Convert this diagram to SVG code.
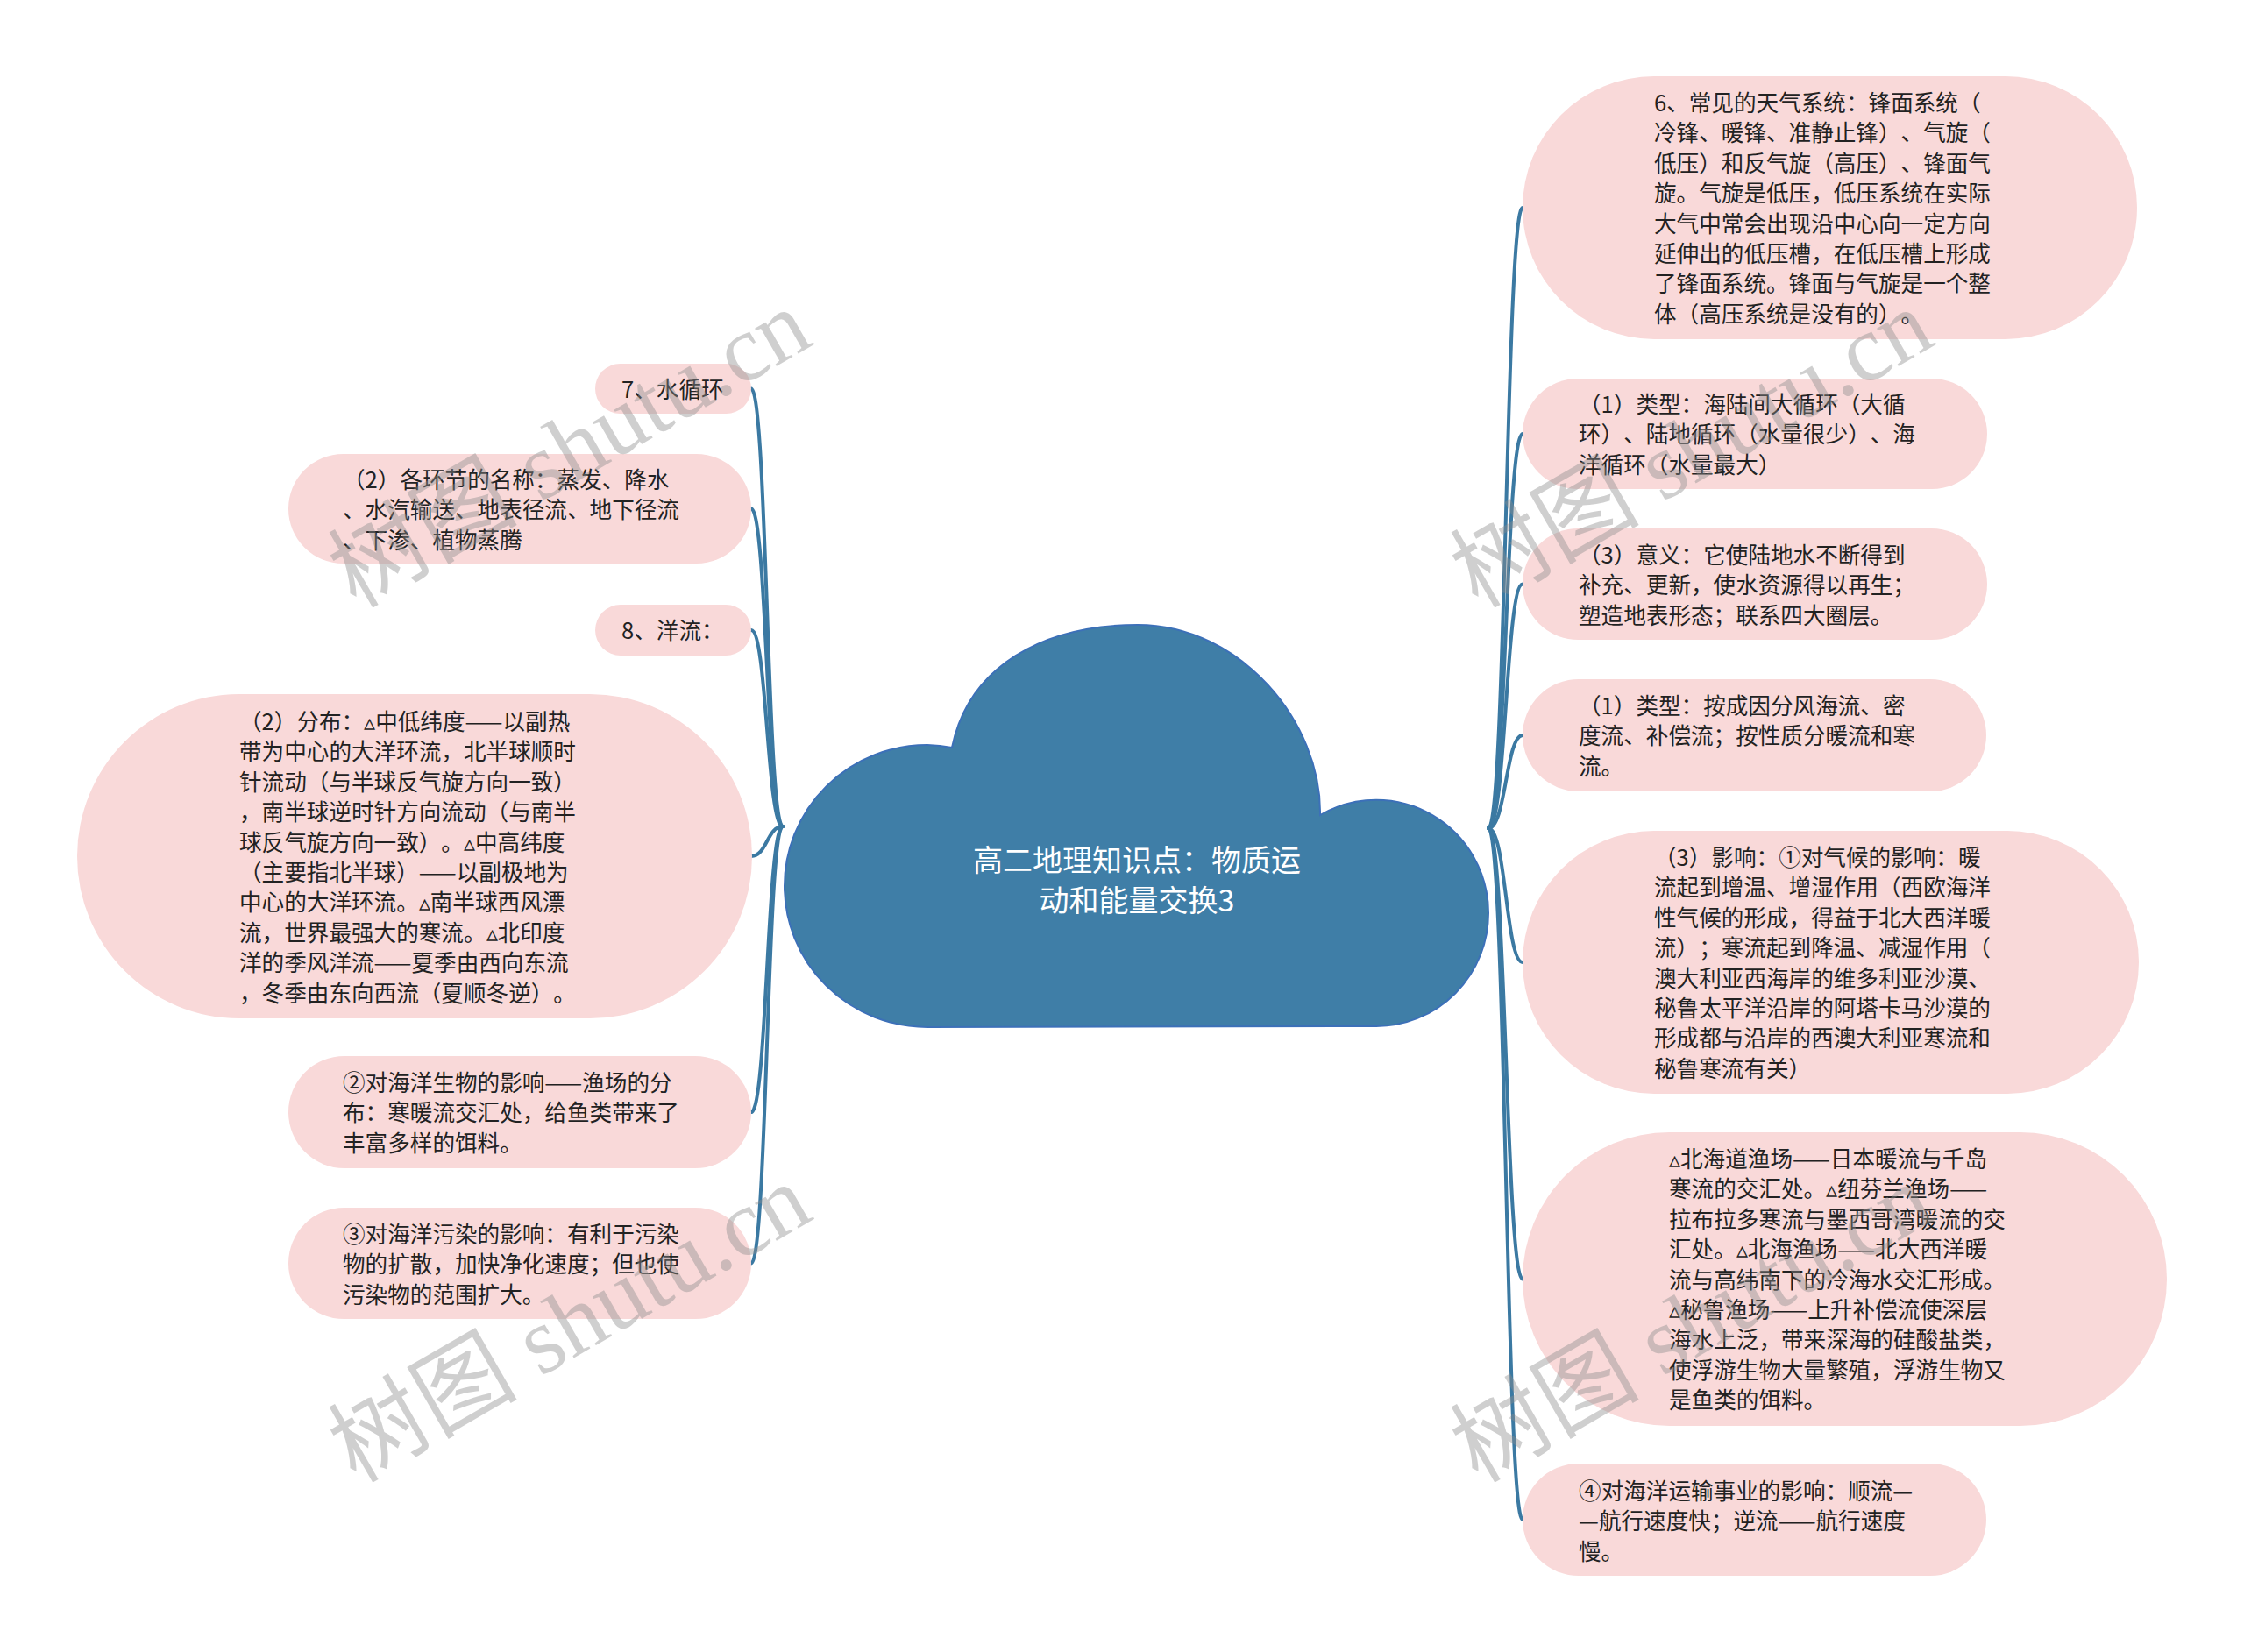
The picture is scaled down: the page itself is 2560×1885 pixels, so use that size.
<svg xmlns="http://www.w3.org/2000/svg" width="2560" height="1885" viewBox="0 0 2560 1885">
<defs>
<style>
.pill{fill:#F9D9D9;}
.t{font-family:"Noto Sans CJK SC","Noto Sans CJK JP",sans-serif;font-size:25.6px;fill:#222222;dominant-baseline:central;text-spacing-trim:space-all;}
.title{font-family:"Noto Sans CJK SC","Noto Sans CJK JP",sans-serif;font-size:34px;fill:#ffffff;dominant-baseline:central;text-anchor:middle;text-spacing-trim:space-all;}
.link{fill:none;stroke:#3B79A2;stroke-width:4;stroke-linecap:round;}
.wm{font-family:"Liberation Serif","Noto Sans CJK SC",serif;font-size:108px;fill:#8c8c8c;fill-opacity:0.42;text-anchor:middle;dominant-baseline:central;}
</style>
</defs>
<rect x="0" y="0" width="2560" height="1885" fill="#ffffff"/>

<g id="connectors">
<path class="link" d="M893 943 C875 943 875 443.5 857 443.5"/>
<path class="link" d="M893 943 C875 943 875 580.5 857 580.5"/>
<path class="link" d="M893 943 C875 943 875 719 857 719"/>
<path class="link" d="M893 943 C875 943 875 977 857 977"/>
<path class="link" d="M893 943 C875 943 875 1269 857 1269"/>
<path class="link" d="M893 943 C875 943 875 1441.5 857 1441.5"/>
<path class="link" d="M1698 945 C1718 945 1718 237 1737 237"/>
<path class="link" d="M1698 945 C1718 945 1718 495 1737 495"/>
<path class="link" d="M1698 945 C1718 945 1718 666.5 1737 666.5"/>
<path class="link" d="M1698 945 C1718 945 1718 839 1737 839"/>
<path class="link" d="M1698 945 C1718 945 1718 1098 1737 1098"/>
<path class="link" d="M1698 945 C1718 945 1718 1459.5 1737 1459.5"/>
<path class="link" d="M1698 945 C1718 945 1718 1734 1737 1734"/>
</g>

<g id="root">
<path d="M1058 1172 A163 161 0 0 1 895 1011 A163 161 0 0 1 1058 850 A163 161 0 0 1 1086 853 C1105 760 1190 713 1298 713 C1415 713 1508 824 1506 930 A128 129 0 0 1 1698 1042 A128 129 0 0 1 1570 1171 Z" fill="#3F7EA7" stroke="#3C70B8" stroke-width="2"/>
<text class="title" x="1297" y="979">高二地理知识点：物质运</text>
<text class="title" x="1297" y="1025">动和能量交换3</text>
</g>

<g id="n-r1">
<rect class="pill" x="1737" y="87" width="701" height="300" rx="150" ry="150"/>
<text class="t" x="1887" y="115"><tspan x="1887" dy="0">6、常见的天气系统：锋面系统（</tspan><tspan x="1887" dy="34.4">冷锋、暖锋、准静止锋）、气旋（</tspan><tspan x="1887" dy="34.4">低压）和反气旋（高压）、锋面气</tspan><tspan x="1887" dy="34.4">旋。气旋是低压，低压系统在实际</tspan><tspan x="1887" dy="34.4">大气中常会出现沿中心向一定方向</tspan><tspan x="1887" dy="34.4">延伸出的低压槽，在低压槽上形成</tspan><tspan x="1887" dy="34.4">了锋面系统。锋面与气旋是一个整</tspan><tspan x="1887" dy="34.4">体（高压系统是没有的）。</tspan></text>
</g>

<g id="n-r2">
<rect class="pill" x="1737" y="432" width="530" height="126" rx="63" ry="63"/>
<text class="t" x="1801" y="459"><tspan x="1801" dy="0">（1）类型：海陆间大循环（大循</tspan><tspan x="1801" dy="34.4">环）、陆地循环（水量很少）、海</tspan><tspan x="1801" dy="34.4">洋循环（水量最大）</tspan></text>
</g>

<g id="n-r3">
<rect class="pill" x="1737" y="603" width="530" height="127" rx="63.5" ry="63.5"/>
<text class="t" x="1801" y="631"><tspan x="1801" dy="0">（3）意义：它使陆地水不断得到</tspan><tspan x="1801" dy="34.4">补充、更新，使水资源得以再生；</tspan><tspan x="1801" dy="34.4">塑造地表形态；联系四大圈层。</tspan></text>
</g>

<g id="n-r4">
<rect class="pill" x="1737" y="775" width="529" height="128" rx="64" ry="64"/>
<text class="t" x="1801" y="803"><tspan x="1801" dy="0">（1）类型：按成因分风海流、密</tspan><tspan x="1801" dy="34.4">度流、补偿流；按性质分暖流和寒</tspan><tspan x="1801" dy="34.4">流。</tspan></text>
</g>

<g id="n-r5">
<rect class="pill" x="1737" y="948" width="703" height="300" rx="150" ry="150"/>
<text class="t" x="1887" y="976"><tspan x="1887" dy="0">（3）影响：①对气候的影响：暖</tspan><tspan x="1887" dy="34.4">流起到增温、增湿作用（西欧海洋</tspan><tspan x="1887" dy="34.4">性气候的形成，得益于北大西洋暖</tspan><tspan x="1887" dy="34.4">流）；寒流起到降温、减湿作用（</tspan><tspan x="1887" dy="34.4">澳大利亚西海岸的维多利亚沙漠、</tspan><tspan x="1887" dy="34.4">秘鲁太平洋沿岸的阿塔卡马沙漠的</tspan><tspan x="1887" dy="34.4">形成都与沿岸的西澳大利亚寒流和</tspan><tspan x="1887" dy="34.4">秘鲁寒流有关）</tspan></text>
</g>

<g id="n-r6">
<rect class="pill" x="1737" y="1292" width="735" height="335" rx="167.5" ry="167.5"/>
<text class="t" x="1904" y="1320"><tspan x="1904" dy="0">▵北海道渔场——日本暖流与千岛</tspan><tspan x="1904" dy="34.4">寒流的交汇处。▵纽芬兰渔场——</tspan><tspan x="1904" dy="34.4">拉布拉多寒流与墨西哥湾暖流的交</tspan><tspan x="1904" dy="34.4">汇处。▵北海渔场——北大西洋暖</tspan><tspan x="1904" dy="34.4">流与高纬南下的冷海水交汇形成。</tspan><tspan x="1904" dy="34.4">▵秘鲁渔场——上升补偿流使深层</tspan><tspan x="1904" dy="34.4">海水上泛，带来深海的硅酸盐类，</tspan><tspan x="1904" dy="34.4">使浮游生物大量繁殖，浮游生物又</tspan><tspan x="1904" dy="34.4">是鱼类的饵料。</tspan></text>
</g>

<g id="n-r7">
<rect class="pill" x="1737" y="1670" width="529" height="128" rx="64" ry="64"/>
<text class="t" x="1801" y="1699"><tspan x="1801" dy="0">④对海洋运输事业的影响：顺流—</tspan><tspan x="1801" dy="34.4">—航行速度快；逆流——航行速度</tspan><tspan x="1801" dy="34.4">慢。</tspan></text>
</g>

<g id="n-l1">
<rect class="pill" x="679" y="415" width="178" height="57" rx="28.5" ry="28.5"/>
<text class="t" x="709" y="442">7、水循环</text>
</g>

<g id="n-l2">
<rect class="pill" x="329" y="518" width="528" height="125" rx="62.5" ry="62.5"/>
<text class="t" x="391" y="545"><tspan x="391" dy="0">（2）各环节的名称：蒸发、降水</tspan><tspan x="391" dy="34.4">、水汽输送、地表径流、地下径流</tspan><tspan x="391" dy="34.4">、下渗、植物蒸腾</tspan></text>
</g>

<g id="n-l3">
<rect class="pill" x="679" y="690" width="178" height="58" rx="29" ry="29"/>
<text class="t" x="709" y="717">8、洋流：</text>
</g>

<g id="n-l4">
<rect class="pill" x="88" y="792" width="770" height="370" rx="185" ry="185"/>
<text class="t" x="273" y="821"><tspan x="273" dy="0">（2）分布：▵中低纬度——以副热</tspan><tspan x="273" dy="34.4">带为中心的大洋环流，北半球顺时</tspan><tspan x="273" dy="34.4">针流动（与半球反气旋方向一致）</tspan><tspan x="273" dy="34.4">，南半球逆时针方向流动（与南半</tspan><tspan x="273" dy="34.4">球反气旋方向一致）。▵中高纬度</tspan><tspan x="273" dy="34.4">（主要指北半球）——以副极地为</tspan><tspan x="273" dy="34.4">中心的大洋环流。▵南半球西风漂</tspan><tspan x="273" dy="34.4">流，世界最强大的寒流。▵北印度</tspan><tspan x="273" dy="34.4">洋的季风洋流——夏季由西向东流</tspan><tspan x="273" dy="34.4">，冬季由东向西流（夏顺冬逆）。</tspan></text>
</g>

<g id="n-l5">
<rect class="pill" x="329" y="1205" width="528" height="128" rx="64" ry="64"/>
<text class="t" x="391" y="1233"><tspan x="391" dy="0">②对海洋生物的影响——渔场的分</tspan><tspan x="391" dy="34.4">布：寒暖流交汇处，给鱼类带来了</tspan><tspan x="391" dy="34.4">丰富多样的饵料。</tspan></text>
</g>

<g id="n-l6">
<rect class="pill" x="329" y="1378" width="528" height="127" rx="63.5" ry="63.5"/>
<text class="t" x="391" y="1406"><tspan x="391" dy="0">③对海洋污染的影响：有利于污染</tspan><tspan x="391" dy="34.4">物的扩散，加快净化速度；但也使</tspan><tspan x="391" dy="34.4">污染物的范围扩大。</tspan></text>
</g>

<g id="watermarks">
<text class="wm" x="650" y="512" transform="rotate(-30 650 512)">树图 shutu.cn</text>
<text class="wm" x="650" y="1510" transform="rotate(-30 650 1510)">树图 shutu.cn</text>
<text class="wm" x="1930" y="512" transform="rotate(-30 1930 512)">树图 shutu.cn</text>
<text class="wm" x="1930" y="1510" transform="rotate(-30 1930 1510)">树图 shutu.cn</text>
</g>
</svg>
